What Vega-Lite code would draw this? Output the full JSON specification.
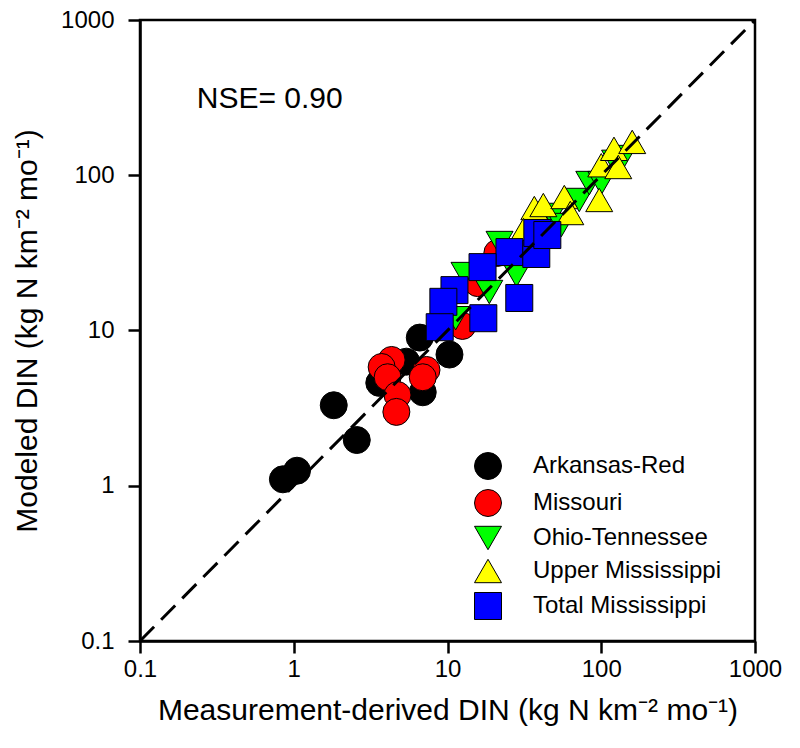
{
  "$schema": "https://vega.github.io/schema/vega-lite/v6.json",
  "autosize": "none",
  "padding": {"left": 140, "top": 20, "right": 45, "bottom": 107},
  "width": 615,
  "height": 621,
  "background": "white",
  "config": {
    "font": "Liberation Sans",
    "view": {"stroke": "black", "strokeWidth": 2.5},
    "axis": {
      "grid": false,
      "domainColor": "black",
      "domainWidth": 2.5,
      "tickColor": "black",
      "tickWidth": 2.5,
      "tickSize": 12,
      "labelColor": "black",
      "labelFontSize": 24,
      "labelFont": "Liberation Sans",
      "titleColor": "black",
      "titleFontSize": 30,
      "titleFontWeight": "normal",
      "titleFont": "Liberation Sans"
    }
  },
  "layer": [
    {
      "data": {
        "values": [
          {"series": "Arkansas-Red", "measured": 0.85, "modeled": 1.1},
          {"series": "Arkansas-Red", "measured": 1.05, "modeled": 1.25},
          {"series": "Arkansas-Red", "measured": 1.82, "modeled": 3.3},
          {"series": "Arkansas-Red", "measured": 2.57, "modeled": 1.97},
          {"series": "Arkansas-Red", "measured": 3.6, "modeled": 4.6},
          {"series": "Arkansas-Red", "measured": 5.4, "modeled": 6.3},
          {"series": "Arkansas-Red", "measured": 6.6, "modeled": 9.0},
          {"series": "Arkansas-Red", "measured": 6.9, "modeled": 4.0},
          {"series": "Arkansas-Red", "measured": 10.3, "modeled": 7.0},
          {"series": "Missouri", "measured": 4.33, "modeled": 6.46},
          {"series": "Missouri", "measured": 3.73, "modeled": 5.82},
          {"series": "Missouri", "measured": 4.08, "modeled": 5.0},
          {"series": "Missouri", "measured": 4.73, "modeled": 3.84},
          {"series": "Missouri", "measured": 4.65, "modeled": 2.99},
          {"series": "Missouri", "measured": 7.3, "modeled": 5.57},
          {"series": "Missouri", "measured": 6.9, "modeled": 5.0},
          {"series": "Missouri", "measured": 12.5, "modeled": 10.7},
          {"series": "Missouri", "measured": 15.7, "modeled": 20.2},
          {"series": "Missouri", "measured": 21.1, "modeled": 31.6},
          {"series": "Ohio-Tennessee", "measured": 21.8, "modeled": 36.6},
          {"series": "Ohio-Tennessee", "measured": 12.9, "modeled": 23.1},
          {"series": "Ohio-Tennessee", "measured": 18.7, "modeled": 17.7},
          {"series": "Ohio-Tennessee", "measured": 28.1, "modeled": 22.8},
          {"series": "Ohio-Tennessee", "measured": 11.3, "modeled": 12.0},
          {"series": "Ohio-Tennessee", "measured": 48.1, "modeled": 55.5},
          {"series": "Ohio-Tennessee", "measured": 55.0, "modeled": 47.8},
          {"series": "Ohio-Tennessee", "measured": 71.9, "modeled": 69.3},
          {"series": "Ohio-Tennessee", "measured": 83.6, "modeled": 89.1},
          {"series": "Ohio-Tennessee", "measured": 100, "modeled": 89},
          {"series": "Ohio-Tennessee", "measured": 123, "modeled": 122},
          {"series": "Ohio-Tennessee", "measured": 139, "modeled": 131},
          {"series": "Upper Mississippi", "measured": 36.7, "modeled": 61.5},
          {"series": "Upper Mississippi", "measured": 42.0, "modeled": 64.3},
          {"series": "Upper Mississippi", "measured": 57.5, "modeled": 72.4},
          {"series": "Upper Mississippi", "measured": 62.9, "modeled": 57.1},
          {"series": "Upper Mississippi", "measured": 97, "modeled": 69.3},
          {"series": "Upper Mississippi", "measured": 100, "modeled": 116},
          {"series": "Upper Mississippi", "measured": 121, "modeled": 148},
          {"series": "Upper Mississippi", "measured": 129, "modeled": 113},
          {"series": "Upper Mississippi", "measured": 159, "modeled": 164},
          {"series": "Upper Mississippi", "measured": 31.2, "modeled": 44.4},
          {"series": "Total Mississippi", "measured": 25.3, "modeled": 32.0},
          {"series": "Total Mississippi", "measured": 16.9, "modeled": 25.6},
          {"series": "Total Mississippi", "measured": 11.1, "modeled": 18.2},
          {"series": "Total Mississippi", "measured": 9.4, "modeled": 15.3},
          {"series": "Total Mississippi", "measured": 8.9, "modeled": 10.5},
          {"series": "Total Mississippi", "measured": 17.1, "modeled": 12.0},
          {"series": "Total Mississippi", "measured": 29.3, "modeled": 16.2},
          {"series": "Total Mississippi", "measured": 37.8, "modeled": 31.1},
          {"series": "Total Mississippi", "measured": 38.4, "modeled": 42.5},
          {"series": "Total Mississippi", "measured": 44.6, "modeled": 41.2}
        ]
      },
      "mark": {"type": "point", "filled": true, "opacity": 1, "stroke": "black", "strokeWidth": 1},
      "encoding": {
        "x": {
          "field": "measured", "type": "quantitative",
          "scale": {"type": "log", "domain": [0.1, 1000], "nice": false},
          "axis": {"values": [0.1, 1, 10, 100, 1000], "format": "~g", "labelPadding": 4, "titlePadding": 14, "labelFlush": false},
          "title": "Measurement-derived DIN (kg N km⁻² mo⁻¹)"
        },
        "y": {
          "field": "modeled", "type": "quantitative",
          "scale": {"type": "log", "domain": [0.1, 1000], "nice": false},
          "axis": {"values": [0.1, 1, 10, 100, 1000], "format": "~g", "labelPadding": 14, "titlePadding": 18, "labelFlush": false},
          "title": "Modeled DIN (kg N km⁻² mo⁻¹)"
        },
        "color": {
          "field": "series", "type": "nominal",
          "scale": {
            "domain": ["Arkansas-Red", "Missouri", "Ohio-Tennessee", "Upper Mississippi", "Total Mississippi"],
            "range": ["#000000", "#ff0000", "#00ff00", "#ffff00", "#0000ff"]
          },
          "legend": {
            "title": null,
            "orient": "none",
            "legendX": 334,
            "legendY": 432,
            "padding": 0,
            "labelFontSize": 24,
            "labelFont": "Liberation Sans",
            "labelColor": "black",
            "labelLimit": 0,
            "labelOffset": 31,
            "rowPadding": 5,
            "symbolStrokeColor": "black",
            "symbolStrokeWidth": 1,
            "symbolOpacity": 1
          }
        },
        "shape": {
          "field": "series", "type": "nominal",
          "scale": {
            "domain": ["Arkansas-Red", "Missouri", "Ohio-Tennessee", "Upper Mississippi", "Total Mississippi"],
            "range": ["circle", "circle", "triangle-down", "triangle-up", "square"]
          }
        },
        "size": {
          "field": "series", "type": "nominal",
          "scale": {
            "domain": ["Arkansas-Red", "Missouri", "Ohio-Tennessee", "Upper Mississippi", "Total Mississippi"],
            "range": [729, 729, 676, 676, 484]
          }
        }
      }
    },
    {
      "data": {"values": [{"measured": 0.1, "modeled": 0.1}, {"measured": 1000, "modeled": 1000}]},
      "mark": {"type": "line", "color": "black", "strokeWidth": 3, "strokeDash": [20, 10]},
      "encoding": {
        "x": {"field": "measured", "type": "quantitative"},
        "y": {"field": "modeled", "type": "quantitative"}
      }
    },
    {
      "data": {"values": [{"measured": 0.234, "modeled": 271, "label": "NSE= 0.90"}]},
      "mark": {"type": "text", "align": "left", "baseline": "alphabetic", "fontSize": 30, "font": "Liberation Sans", "color": "black"},
      "encoding": {
        "x": {"field": "measured", "type": "quantitative"},
        "y": {"field": "modeled", "type": "quantitative"},
        "text": {"field": "label"}
      }
    }
  ]
}
